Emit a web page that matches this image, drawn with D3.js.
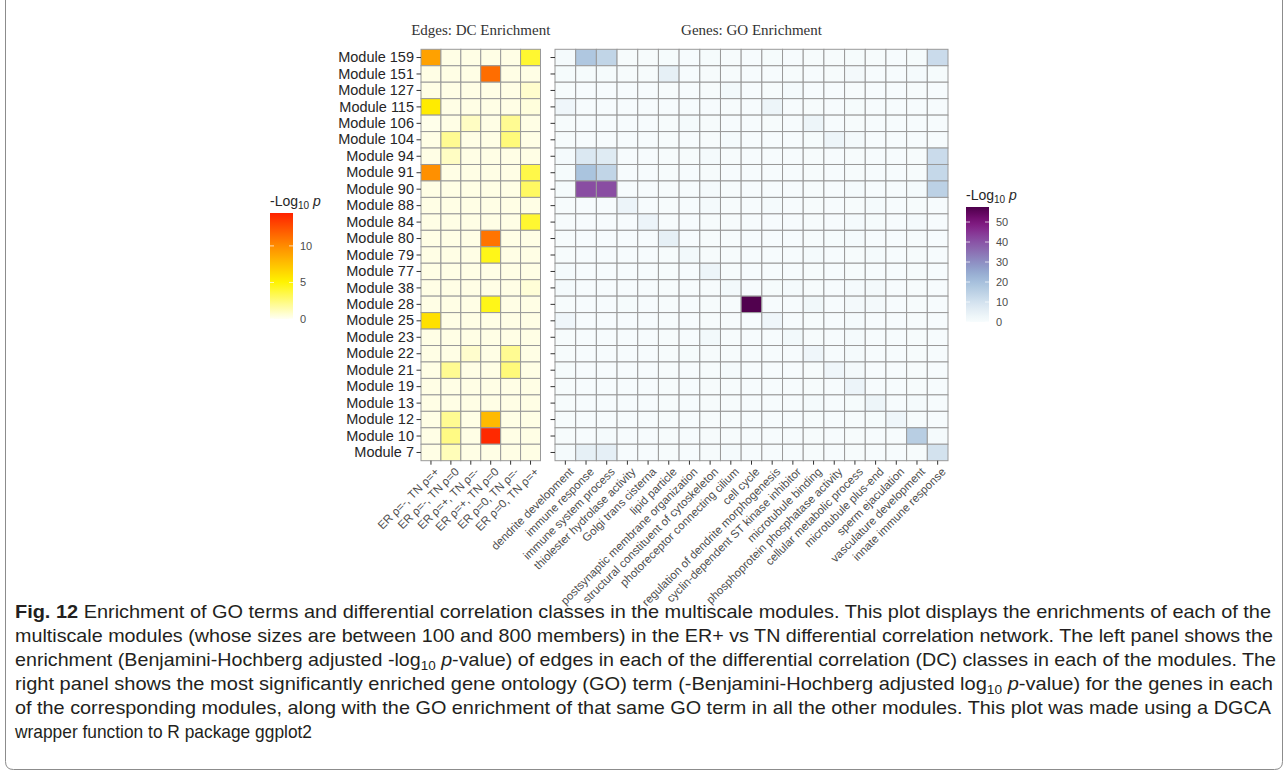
<!DOCTYPE html>
<html>
<head>
<meta charset="utf-8">
<script src="https://cdn.jsdelivr.net/npm/d3@7"></script>
<style>
  body { margin: 0; background: #fff; }
  svg { display: block; }
</style>
</head>
<body>
<svg id="fig" width="1288" height="778"></svg>
<script>
// chart values
var MODULES = ["Module 159", "Module 151", "Module 127", "Module 115", "Module 106", "Module 104",
    "Module 94", "Module 91", "Module 90", "Module 88", "Module 84", "Module 80", "Module 79",
    "Module 77", "Module 38", "Module 28", "Module 25", "Module 23", "Module 22", "Module 21",
    "Module 19", "Module 13", "Module 12", "Module 10", "Module 7"];

var DC_CLASSES = ["ER ρ=-, TN ρ=+", "ER ρ=-, TN ρ=0", "ER ρ=+, TN ρ=-", "ER ρ=+, TN ρ=0",
    "ER ρ=0, TN ρ=-", "ER ρ=0, TN ρ=+"];

var GO_TERMS = ["dendrite development", "immune response", "immune system process",
    "thiolester hydrolase activity", "Golgi trans cisterna", "lipid particle",
    "postsynaptic membrane organization", "structural constituent of cytoskeleton",
    "photoreceptor connecting cilium", "cell cycle", "regulation of dendrite morphogenesis",
    "cyclin-dependent ST kinase inhibitor", "microtubule binding",
    "phosphoprotein phosphatase activity", "cellular metabolic process",
    "microtubule plus-end", "sperm ejaculation", "vasculature development",
    "innate immune response"];

// -log10 p, one row per module, one column per DC class
var DC_VALUES = [
    [9, 0.3, 0.3, 0.3, 0.3, 4],
    [0.3, 0.3, 0.3, 11.3, 0.3, 0.3],
    [0.3, 0.3, 0.3, 0.3, 0.3, 0.8],
    [5.5, 0.3, 0.3, 0.3, 0.3, 0.5],
    [0.2, 0.3, 1, 0.3, 2, 0.3],
    [0.3, 2, 0.3, 0.3, 2.5, 0.3],
    [0.3, 1, 0.3, 0.3, 0.3, 0.3],
    [9.8, 0.3, 0.3, 0.3, 0.3, 3.5],
    [0.3, 0.3, 0.3, 0.3, 0.3, 3],
    [0.3, 0.3, 0.3, 0.3, 0.3, 0.3],
    [0.3, 0.3, 0.3, 0.3, 0.3, 4],
    [0.3, 0.3, 0.3, 11, 0.3, 0.3],
    [0.3, 0.3, 0.3, 4.5, 0.3, 0.3],
    [0.3, 0.3, 0.3, 0.3, 0.3, 0.3],
    [0.3, 0.3, 0.3, 0.3, 0.3, 0.6],
    [0.3, 0.3, 0.3, 4.5, 0.3, 0.3],
    [6, 0.3, 0.3, 0.3, 0.3, 0.3],
    [0.3, 0.3, 0.3, 0.3, 0.3, 0.3],
    [0.3, 0.3, 0.8, 0.3, 2, 0.3],
    [0.3, 2, 0.3, 0.3, 2.5, 0.3],
    [0.3, 0.3, 0.3, 0.3, 0.3, 0.3],
    [0.3, 0.3, 0.3, 0.3, 0.3, 0.3],
    [0.3, 2, 0.3, 7.8, 0.3, 0.3],
    [0.3, 2.3, 0.3, 14.2, 0.3, 0.3],
    [0.3, 1.2, 0.3, 0.3, 0.3, 0.3]
];

// -log10 p, one row per module, one column per GO term
var GO_VALUES = [
    [0.8, 18, 14, 0.4, 0.4, 0.6, 0.3, 0.5, 0.4, 0.3, 0.5, 0.3, 0.4, 0.4, 0.6, 0.4, 0.3, 0.5, 12],
    [0.5, 0.5, 0.5, 0.4, 0.4, 5, 0.3, 0.4, 0.4, 0.3, 0.3, 0.4, 0.3, 0.4, 1.2, 0.3, 0.3, 0.8, 0.5],
    [0.4, 0.3, 0.3, 0.3, 0.3, 0.4, 0.3, 0.4, 1.5, 0.3, 0.4, 0.8, 0.3, 0.3, 0.4, 0.3, 0.3, 0.4, 0.3],
    [2.5, 0.3, 0.3, 0.3, 0.3, 0.3, 0.3, 0.3, 0.4, 0.3, 3, 0.3, 0.4, 0.3, 0.5, 0.3, 0.3, 0.3, 0.3],
    [0.4, 0.3, 0.3, 0.3, 0.3, 0.4, 0.8, 0.4, 0.3, 0.3, 0.4, 0.3, 3, 0.3, 0.4, 0.3, 0.3, 0.3, 0.3],
    [0.4, 0.3, 0.3, 0.3, 0.3, 0.4, 0.3, 0.4, 0.8, 0.3, 0.3, 0.3, 0.5, 3, 1.2, 0.3, 0.3, 0.3, 0.3],
    [1, 8, 7, 0.3, 0.3, 0.4, 0.4, 0.8, 0.4, 0.3, 0.3, 0.3, 0.4, 0.3, 0.4, 0.3, 0.3, 0.4, 12],
    [0.6, 19, 14, 0.3, 0.3, 0.4, 0.3, 0.4, 0.3, 0.3, 0.3, 0.3, 0.4, 0.3, 0.4, 0.3, 0.3, 0.4, 13],
    [0.5, 41, 41, 0.3, 0.3, 0.4, 0.3, 0.8, 0.4, 0.3, 0.3, 0.3, 0.4, 0.3, 0.8, 0.3, 0.3, 1, 15],
    [0.4, 0.3, 0.3, 3.5, 0.3, 0.4, 0.3, 0.8, 0.4, 0.3, 0.8, 0.3, 0.4, 0.3, 0.4, 0.8, 0.3, 0.4, 0.3],
    [0.4, 0.3, 0.3, 0.3, 3.5, 0.4, 0.3, 0.4, 0.4, 0.3, 0.3, 0.3, 0.4, 0.3, 0.8, 0.6, 0.3, 0.8, 0.3],
    [0.4, 0.3, 0.3, 0.3, 0.3, 5, 0.3, 0.4, 0.4, 0.3, 0.3, 0.3, 0.4, 0.5, 0.8, 0.3, 0.3, 0.4, 0.3],
    [0.4, 0.3, 0.3, 0.3, 0.3, 0.4, 1.5, 0.4, 0.4, 0.3, 0.3, 0.3, 0.8, 0.3, 0.4, 0.8, 0.3, 0.4, 0.3],
    [0.8, 0.3, 0.3, 0.3, 0.3, 0.4, 0.3, 3, 0.4, 0.3, 0.3, 0.3, 0.4, 0.3, 0.4, 0.3, 0.3, 0.4, 0.3],
    [0.8, 0.3, 0.3, 0.3, 0.3, 0.4, 0.3, 0.4, 1.5, 0.3, 0.6, 0.8, 0.4, 0.3, 0.8, 1.2, 0.3, 0.4, 0.3],
    [0.4, 0.3, 0.3, 0.6, 0.3, 0.4, 0.3, 0.4, 0.4, 57, 0.3, 0.3, 2, 0.3, 1.2, 1.2, 0.3, 0.4, 0.3],
    [2.5, 0.3, 0.3, 0.3, 0.3, 0.4, 0.3, 0.4, 0.4, 0.3, 2.5, 0.3, 0.4, 0.3, 0.8, 0.3, 0.3, 0.4, 0.3],
    [0.4, 0.3, 0.3, 0.3, 0.3, 0.4, 0.3, 1.5, 0.4, 0.3, 0.3, 1.5, 0.4, 0.3, 0.8, 0.3, 0.3, 0.4, 0.3],
    [0.4, 0.3, 0.3, 0.3, 0.3, 0.4, 0.6, 0.4, 0.4, 0.3, 0.3, 0.3, 2.5, 0.3, 0.8, 0.3, 0.3, 0.4, 0.3],
    [0.6, 0.3, 0.3, 0.3, 0.3, 0.4, 0.3, 0.4, 0.8, 0.3, 0.3, 0.3, 0.4, 2.5, 1.2, 0.3, 0.3, 0.4, 0.3],
    [0.4, 0.3, 0.3, 0.3, 0.3, 0.4, 0.3, 0.4, 0.4, 0.3, 0.3, 0.3, 0.4, 0.3, 3.5, 0.3, 0.3, 0.4, 0.3],
    [0.4, 0.3, 0.3, 0.3, 0.3, 0.4, 0.3, 0.4, 0.4, 0.3, 0.3, 0.3, 0.8, 0.3, 0.6, 3, 0.3, 0.8, 0.3],
    [0.4, 0.3, 0.3, 0.3, 0.3, 0.4, 0.3, 0.4, 0.4, 0.3, 0.3, 0.3, 0.4, 0.3, 0.4, 0.5, 2.5, 0.4, 0.3],
    [0.4, 0.3, 1, 0.3, 0.3, 0.4, 0.3, 0.4, 0.4, 0.3, 0.3, 0.3, 0.4, 0.3, 0.4, 0.3, 0.3, 16, 1],
    [1, 5, 5.5, 0.3, 0.3, 0.4, 0.3, 0.4, 0.8, 0.3, 0.3, 0.3, 0.4, 0.3, 0.4, 0.3, 0.3, 0.4, 10]
];

var DC_LEGEND_TICKS = [0, 5, 10];
var GO_LEGEND_TICKS = [0, 10, 20, 30, 40, 50];

var CAPTION = [
    [["b", "Fig. 12"], ["", " Enrichment of GO terms and differential correlation classes in the multiscale modules. This plot displays the enrichments of each of the"]],
    [["", "multiscale modules (whose sizes are between 100 and 800 members) in the ER+ vs TN differential correlation network. The left panel shows the"]],
    [["", "enrichment (Benjamini-Hochberg adjusted -log"], ["sub", "10"], ["i", " p"], ["", "-value) of edges in each of the differential correlation (DC) classes in each of the modules. The"]],
    [["", "right panel shows the most significantly enriched gene ontology (GO) term (-Benjamini-Hochberg adjusted log"], ["sub", "10"], ["i", " p"], ["", "-value) for the genes in each"]],
    [["", "of the corresponding modules, along with the GO enrichment of that same GO term in all the other modules. This plot was made using a DGCA"]],
    [["", "wrapper function to R package ggplot2"]]
];
var CAPTION_WIDTHS = [1256, 1258, 1261, 1258, 1256, 297];

//layout
var TOP = 49.3, BOTTOM = 460.7;
var LEFT_X = [421, 540.5];
var RIGHT_X = [555, 948];
var GRID = "#999";

var svg = d3.select("#fig");

// figure frame with rounded bottom corners
svg.append("path")
    .attr("d", "M5.5,-20 V761.5 Q5.5,769.5 13.5,769.5 H1274.5 Q1282.5,769.5 1282.5,761.5 V-20")
    .attr("fill", "none")
    .attr("stroke", "#8c8c8c")
    .attr("stroke-width", 1);

var yScale = d3.scaleBand().domain(MODULES).range([TOP, BOTTOM]);
var xDC = d3.scaleBand().domain(DC_CLASSES).range(LEFT_X);
var xGO = d3.scaleBand().domain(GO_TERMS).range(RIGHT_X);

var dcMax = 14.5, goMax = 57.5;
var dcColor = d3.scaleLinear()
    .domain([0, 5, 10, dcMax])
    .range(["#fffff4", "#fff500", "#ff8c00", "#ff2200"])
    .clamp(true);
var goColor = d3.scaleSequential(d3.interpolateBuPu).domain([0, goMax]).clamp(true);

function drawPanel(xScale, values, color, title) {
    var cells = [];
    values.forEach((row, i) => row.forEach((v, j) => {
        cells.push({ module: MODULES[i], cls: xScale.domain()[j], value: v });
    }));

    var g = svg.append("g");
    g.selectAll("rect.cell")
        .data(cells)
        .enter().append("rect")
        .attr("class", "cell")
        .attr("x", d => xScale(d.cls))
        .attr("y", d => yScale(d.module))
        .attr("width", xScale.bandwidth())
        .attr("height", yScale.bandwidth())
        .attr("fill", d => color(d.value))
        .attr("stroke", GRID)
        .attr("stroke-width", 1);

    var r = xScale.range();
    g.append("text")
        .attr("x", (r[0] + r[1]) / 2)
        .attr("y", 35)
        .attr("text-anchor", "middle")
        .attr("font-family", "'Liberation Serif', 'Times New Roman', serif")
        .attr("font-size", 15)
        .attr("fill", "#333")
        .text(title);

    // x axis with rotated labels
    var ax = g.append("g")
        .attr("transform", `translate(0, ${BOTTOM})`)
        .call(d3.axisBottom(xScale).tickSize(4).tickPadding(2));
    ax.select(".domain").remove();
    ax.selectAll(".tick line").attr("stroke", "#333");
    ax.selectAll(".tick text")
        .attr("font-family", "'Liberation Sans', Arial, sans-serif")
        .attr("font-size", 11.5)
        .attr("fill", "#4d4d4d")
        .attr("text-anchor", "end")
        .attr("dy", "0.35em")
        .attr("transform", "translate(6, 9) rotate(-45)")
        .attr("y", 0)
        .attr("x", 0);
    return g;
}

var left = drawPanel(xDC, DC_VALUES, dcColor, "Edges: DC Enrichment");
var right = drawPanel(xGO, GO_VALUES, goColor, "Genes: GO Enrichment");

// y axes
var yl = svg.append("g")
    .attr("transform", `translate(${LEFT_X[0]}, 0)`)
    .call(d3.axisLeft(yScale).tickSize(4.5).tickPadding(2.5));
yl.select(".domain").remove();
yl.selectAll(".tick line").attr("stroke", "#333");
yl.selectAll(".tick text")
    .attr("font-family", "'Liberation Sans', Arial, sans-serif")
    .attr("font-size", 14.5)
    .attr("fill", "#262626");

var yr = svg.append("g")
    .attr("transform", `translate(${RIGHT_X[0]}, 0)`)
    .call(d3.axisLeft(yScale).tickSize(4.5).tickFormat(""));
yr.select(".domain").remove();
yr.selectAll(".tick line").attr("stroke", "#333");

// legends
function drawLegend(x0, yTop, yZero, maxV, color, ticks, id) {
    var lg = svg.append("g");
    var ls = d3.scaleLinear().domain([0, maxV]).range([yZero, yTop]);
    var grad = svg.append("defs").append("linearGradient")
        .attr("id", id).attr("x1", 0).attr("y1", 1).attr("x2", 0).attr("y2", 0);
    d3.range(0, 1.0001, 0.05).forEach(t => {
        grad.append("stop").attr("offset", t).attr("stop-color", color(t * maxV));
    });

    lg.append("text")
        .attr("x", x0)
        .attr("y", yTop - 7)
        .attr("font-family", "'Liberation Sans', Arial, sans-serif")
        .attr("font-size", 14)
        .attr("fill", "#262626")
        .call(t => {
            t.append("tspan").text("-Log");
            t.append("tspan").attr("font-size", 10).attr("dy", 3).text("10");
            t.append("tspan").attr("dy", -3).text(" ");
            t.append("tspan").attr("font-style", "italic").text("p");
        });

    lg.append("rect")
        .attr("x", x0).attr("y", yTop)
        .attr("width", 23).attr("height", yZero - yTop)
        .attr("fill", `url(#${id})`);

    ticks.forEach(v => {
        lg.append("line").attr("x1", x0).attr("x2", x0 + 4)
            .attr("y1", ls(v)).attr("y2", ls(v)).attr("stroke", "#fff").attr("stroke-opacity", 0.7);
        lg.append("line").attr("x1", x0 + 19).attr("x2", x0 + 23)
            .attr("y1", ls(v)).attr("y2", ls(v)).attr("stroke", "#fff").attr("stroke-opacity", 0.7);
        lg.append("text")
            .attr("x", x0 + 30).attr("y", ls(v)).attr("dy", "0.35em")
            .attr("font-family", "'Liberation Sans', Arial, sans-serif")
            .attr("font-size", 11)
            .attr("fill", "#4d4d4d")
            .text(v);
    });
}

drawLegend(270, 213, 319, dcMax, dcColor, DC_LEGEND_TICKS, "dcGrad");
drawLegend(966, 207, 322, goMax, goColor, GO_LEGEND_TICKS, "goGrad");

// caption, squeezed to the line widths of the reference
var cap = svg.append("g")
    .attr("font-family", "'Liberation Sans', Arial, sans-serif")
    .attr("font-size", 19)
    .attr("fill", "#231f20");
CAPTION.forEach((parts, i) => {
    var t = cap.append("text")
        .attr("x", 15)
        .attr("y", 618 + i * 24)
        .attr("textLength", CAPTION_WIDTHS[i])
        .attr("lengthAdjust", "spacingAndGlyphs");
    var shifted = false;
    parts.forEach(p => {
        var s = t.append("tspan").text(p[1]);
        if (p[0] === "b") s.attr("font-weight", "bold");
        if (p[0] === "sub") { s.attr("font-size", 13).attr("dy", 4); shifted = true; }
        else if (shifted) { s.attr("dy", -4); shifted = false; }
        if (p[0] === "i") s.attr("font-style", "italic");
    });
});
</script>
</body>
</html>
